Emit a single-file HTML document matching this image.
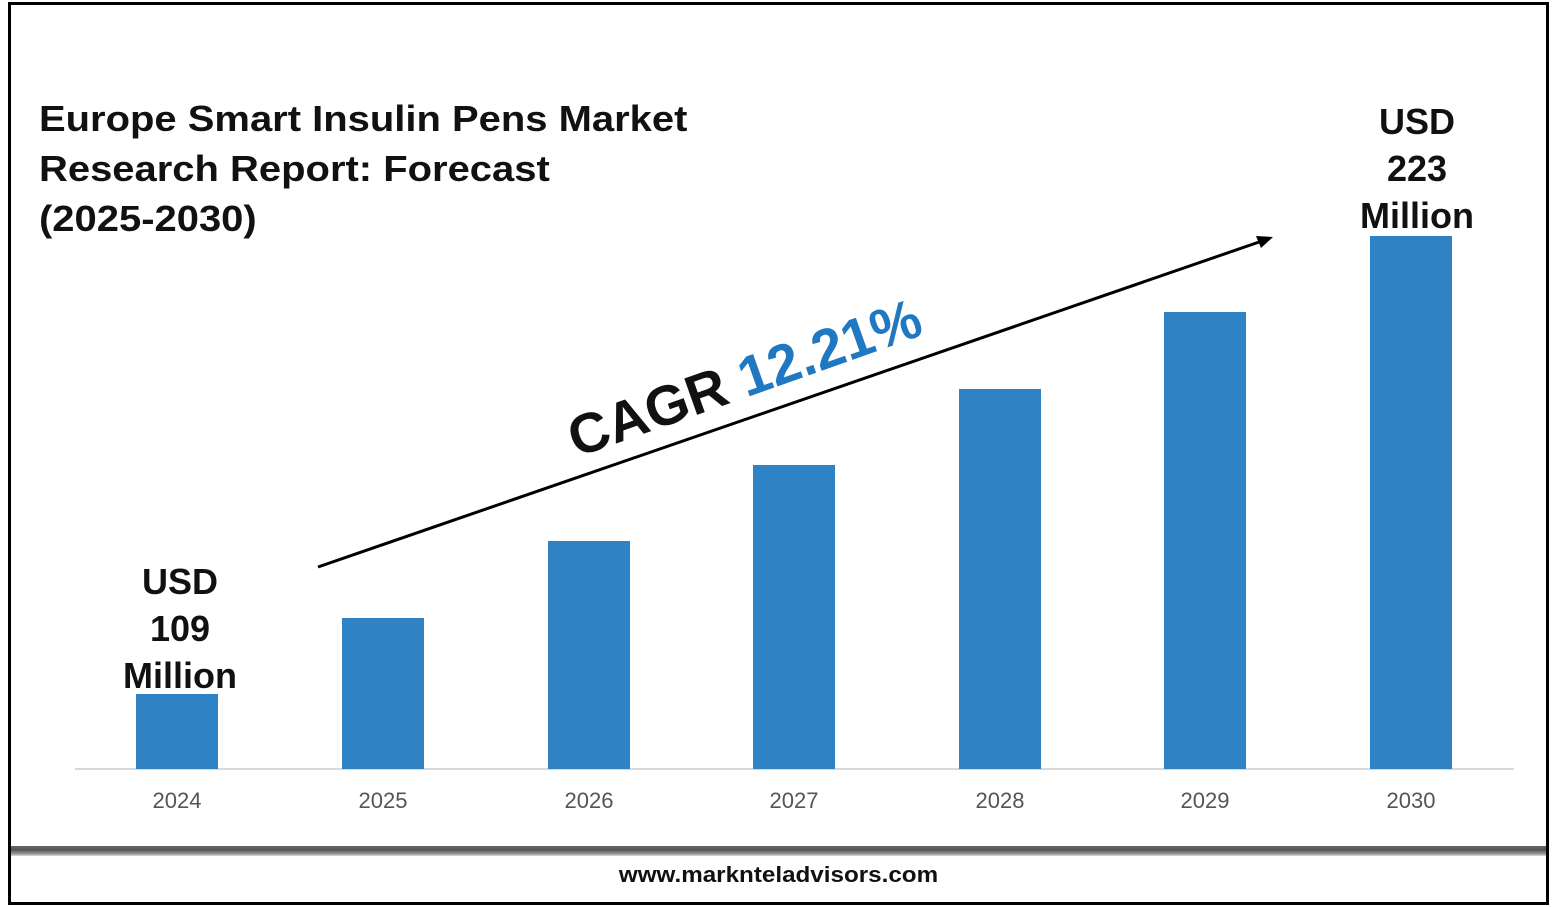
<!DOCTYPE html>
<html><head><style>
body{margin:0;width:1557px;height:907px;background:#fff;overflow:hidden;font-family:"Liberation Sans","DejaVu Sans",sans-serif;position:relative}
.frame{position:absolute;left:8px;top:2px;width:1535px;height:897px;border:3px solid #000}
.band{position:absolute;left:11px;top:846px;width:1535px;height:10px;background:linear-gradient(#666,#555 40%,#999 80%,#ddd)}
.t{position:absolute;font-weight:bold;color:#111}
.bar{position:absolute;width:82px;background:#2f83c5;bottom:138px}
.yr{position:absolute;top:788px;width:100px;text-align:center;font-size:22px;color:#555}
</style></head><body>
<div class="frame"></div>
<div class="band"></div>
<div class="t" style="left:39px;top:94px;font-size:36px;line-height:50px;transform:scaleX(1.11);transform-origin:0 0;white-space:nowrap">Europe Smart Insulin Pens Market<br>Research Report: Forecast<br>(2025-2030)</div>
<div class="t" style="left:100px;top:558px;width:160px;text-align:center;font-size:36px;line-height:47px">USD<br>109<br>Million</div>
<div class="t" style="left:1337px;top:98px;width:160px;text-align:center;font-size:36px;line-height:47px">USD<br>223<br>Million</div>
<div style="position:absolute;left:75px;top:768px;width:1439px;height:2px;background:#d9d9d9"></div>
<div class="bar" style="left:136px;top:694px"></div>
<div class="bar" style="left:342px;top:618px"></div>
<div class="bar" style="left:548px;top:541px"></div>
<div class="bar" style="left:753px;top:465px"></div>
<div class="bar" style="left:959px;top:389px"></div>
<div class="bar" style="left:1164px;top:312px"></div>
<div class="bar" style="left:1370px;top:236px"></div>
<div class="yr" style="left:127px">2024</div>
<div class="yr" style="left:333px">2025</div>
<div class="yr" style="left:539px">2026</div>
<div class="yr" style="left:744px">2027</div>
<div class="yr" style="left:950px">2028</div>
<div class="yr" style="left:1155px">2029</div>
<div class="yr" style="left:1361px">2030</div>
<svg style="position:absolute;left:0;top:0" width="1557" height="907">
<line x1="318" y1="567" x2="1262" y2="241" stroke="#000" stroke-width="3"/>
<polygon points="1273,237 1256,236 1261,248" fill="#000"/>
</svg>
<div class="t" style="font-size:56px;white-space:nowrap;transform:rotate(-19.5deg);transform-origin:0 100%;line-height:60px;top:408px;left:580px">CAGR <span style="color:#1f78c1">12.21%</span></div>
<div class="t" style="left:0;width:1557px;text-align:center;top:862px;font-size:22px;transform:scaleX(1.1)">www.marknteladvisors.com</div>
</body></html>
